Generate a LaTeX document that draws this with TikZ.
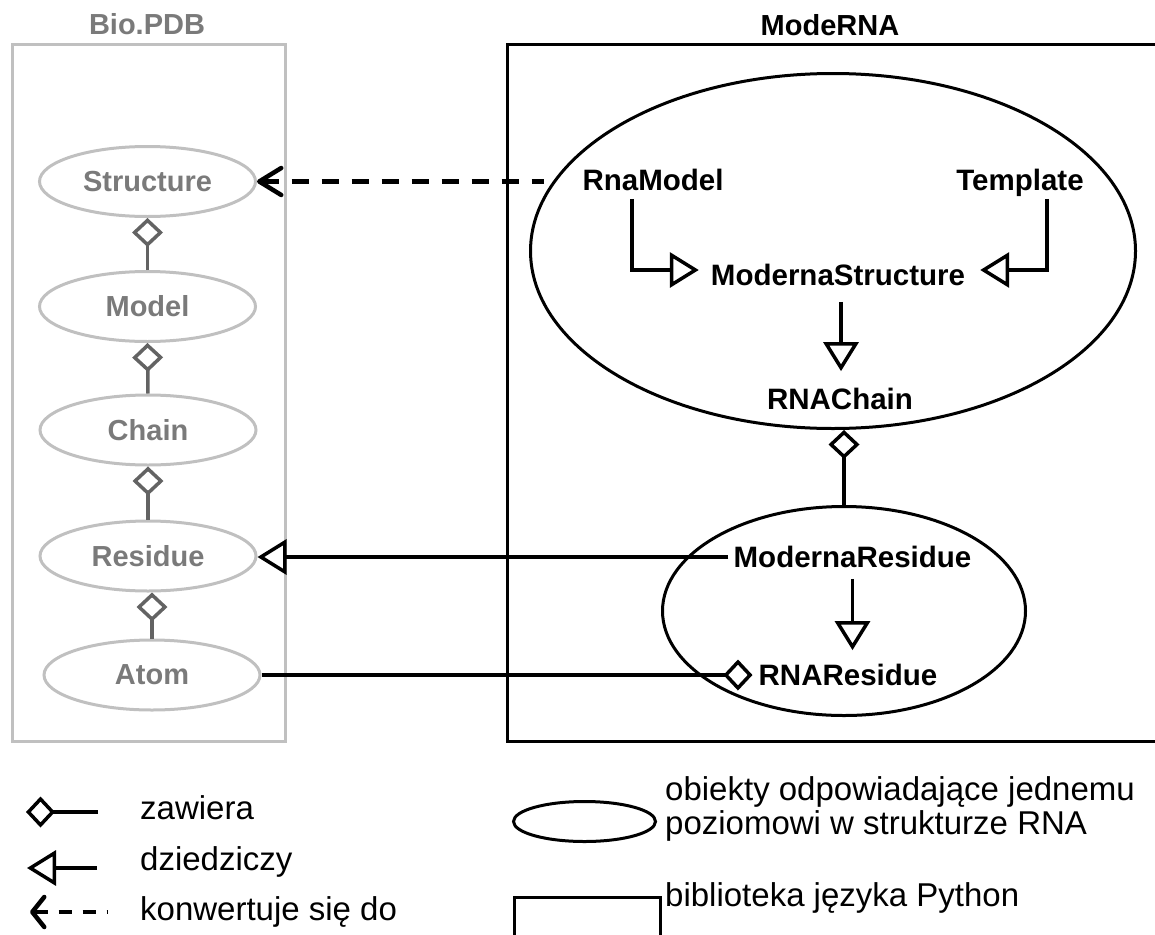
\documentclass[tikz,border=0pt]{standalone}
\usepackage{fontspec}
\setmainfont{Liberation Sans}
\usetikzlibrary{shapes.geometric,arrows.meta}

\definecolor{pdbline}{HTML}{C0C0C0}
\definecolor{pdbtext}{HTML}{7A7A7A}
\definecolor{pdbrel}{HTML}{636363}

\tikzset{
  cls/.style={font=\bfseries\fontsize{29.5}{32}\selectfont, inner sep=0pt, text depth=0pt},
  ttl/.style={font=\bfseries\fontsize{29}{32}\selectfont, inner sep=0pt},
  pdbcls/.style={ellipse, draw=pdbline, line width=3pt, minimum width=216pt,
    minimum height=70pt, inner sep=0pt, text=pdbtext,
    font=\bfseries\fontsize{29}{32}\selectfont},
  level/.style={ellipse, draw, line width=3pt, inner sep=0pt},
  lib/.style={line width=3pt},
  inh/.style={line width=3.5pt, -{Triangle[open, length=29pt, width=35pt]}},
  comp/.style={line width=3.5pt, -{Diamond[open, length=29pt, width=31pt]}},
  pdbcomp/.style={comp, draw=pdbrel},
  conv/.style={line width=4.5pt, dash pattern=on 17pt off 13pt,
    {Straight Barb[length=22pt, width=27pt, round]}-},
  convleg/.style={line width=4.5pt, dash pattern=on 13pt off 11pt,
    {Straight Barb[length=12pt, width=30pt, round]}-},
  legtext/.style={font=\fontsize{33}{36}\selectfont, inner sep=0pt, anchor=base west},
}

\begin{document}
\begin{tikzpicture}[x=1pt,y=-1pt]
\useasboundingbox (0,0) rectangle (1155,934);
\clip (0,0) rectangle (1155,934);

% ---------- Bio.PDB ----------
\node[ttl, text=pdbtext] (tpdb) at (147,24) {Bio.PDB};
\draw[draw=pdbline, line width=3pt] (12,45) rectangle (285,741);

\node[pdbcls] (S) at (147.5,181.5) {Structure};
\node[pdbcls] (M) at (147.5,306.5) {Model};
\node[pdbcls] (C) at (148,430) {Chain};
\node[pdbcls] (R) at (148,556) {Residue};
\node[pdbcls] (A) at (152,675) {Atom};

\draw[pdbcomp] (M.north) -- (S.south);
\draw[pdbcomp] (C.north) -- (M.south);
\draw[pdbcomp] (R.north) -- (C.south);
\draw[pdbcomp] (A.north) -- (A.north |- R.south);

% ---------- ModeRNA ----------
\node[ttl] (tmod) at (830,25) {ModeRNA};
\draw[lib] (1165,45) -- (507,45) -- (507,741) -- (1165,741);

\node[level, minimum width=605pt, minimum height=355pt] (big) at (833,251) {};
\node[level, minimum width=363pt, minimum height=209pt] (sm) at (844,611) {};

\node[cls] (rm) at (653,180) {RnaModel};
\node[cls] (tp) at (1020,180) {Template};
\node[cls] (ms) at (838,275) {ModernaStructure};
\node[cls] (rc) at (840,399) {RNAChain};
\node[cls] (mr) at (852.5,557) {ModernaResidue};
\node[cls] (rr) at (848,675) {RNAResidue};

\draw[inh] ([xshift=-21pt,yshift=-8pt]rm.south) |- ([xshift=-12pt,yshift=5pt]ms.west);
\draw[inh] ([xshift=27pt,yshift=-8pt]tp.south) |- ([xshift=15pt,yshift=5pt]ms.east);
\draw[inh] ([xshift=3pt,yshift=-16pt]ms.south) -- ([xshift=1pt,yshift=17pt]rc.north);
\draw[comp] (sm.north) -- (sm.north |- big.south);

\coordinate (mrfoot) at ([yshift=-11pt]mr.south);
\coordinate (rrtop) at ([yshift=14pt]rr.north);
\draw[inh] (mrfoot) -- (mrfoot |- rrtop);

% links into Bio.PDB
\draw[inh] ([xshift=-5pt]mr.west) -- (mr.west -| R.east);
\draw[comp] (A.east) -- ([xshift=-6pt]rr.west);
\draw[conv, shorten >=9pt] (S.east) -- (S.east -| big.166);

% ---------- legend ----------
\node[legtext] (lz) at (140,819) {zawiera};
\node[legtext] (ld) at (140,870) {dziedziczy};
\node[legtext] (lk) at (140,920) {konwertuje się do};
\node[legtext] (lo) at (665,800) {obiekty odpowiadające jednemu};
\node[legtext] (lp) at (665,834) {poziomowi w strukturze RNA};
\node[legtext] (lb) at (665,906) {biblioteka języka Python};

\draw[comp] ([xshift=-42pt,yshift=7pt]lz.base west) -- ([xshift=-114pt,yshift=7pt]lz.base west);
\draw[inh] ([xshift=-43pt,yshift=2pt]ld.base west) -- ([xshift=-113pt,yshift=2pt]ld.base west);
\draw[convleg] ([xshift=-110pt,yshift=8pt]lk.base west) -- ([xshift=-32pt,yshift=8pt]lk.base west);

\node[level, minimum width=142pt, minimum height=40pt] (le) at (584.5,821.5) {};
\draw[lib] (514,945) -- (514,897) -- (660,897) -- (660,945);
\end{tikzpicture}
\end{document}
